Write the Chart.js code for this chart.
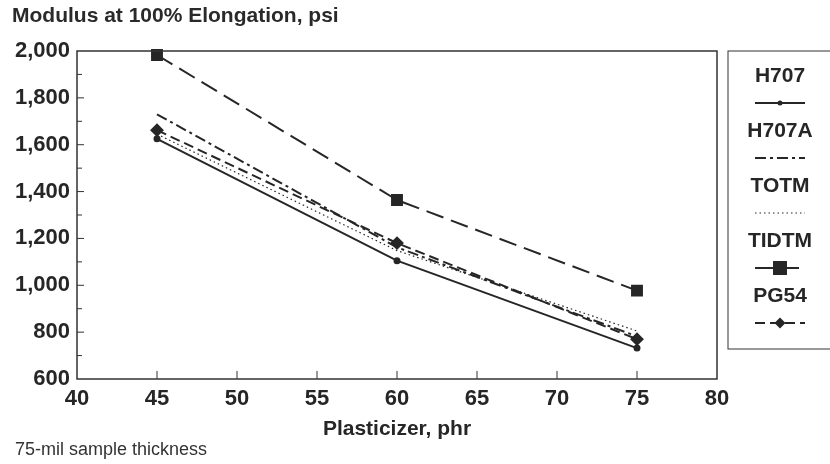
<!DOCTYPE html>
<html lang="en">
<head>
  <meta charset="UTF-8">
  <title>Modulus at 100% Elongation</title>
  <script src="https://cdn.jsdelivr.net/npm/chart.js"></script>
  <style>
    body { margin: 0; background: #fff; font-family: 'Liberation Sans', Arial, sans-serif; }
    .wrap { position: relative; width: 830px; height: 464px; }
    .titulo { position: absolute; left: 12px; top: 3px; font-size: 21px; font-weight: bold; color: #2a2a2a; }
    .nota { position: absolute; left: 15px; top: 439px; font-size: 18px; color: #333; }
  </style>
</head>
<body>
<div class="wrap">
  <canvas id="grafico" width="830" height="464"></canvas>
  <div class="titulo">Modulus at 100% Elongation, psi</div>
  <div class="nota">75-mil sample thickness</div>
</div>
<script>
  // dados
  const plastificante = [45, 60, 75];
  const h707 = [1625, 1105, 732];
  const h707a = [1730, 1162, 782];
  const totm = [1645, 1148, 805];
  const tidtm = [1983, 1364, 977];
  const pg54 = [1662, 1180, 770];
  const yTicks = [600, 800, 1000, 1200, 1400, 1600, 1800, 2000];
  const xTicks = [40, 45, 50, 55, 60, 65, 70, 75, 80];

  const cor = '#262626';
  const fonte = '"Liberation Sans", Arial';
  const pts = arr => arr.map((v, i) => ({ x: plastificante[i], y: v }));

  // moldura, ticks internos e legenda
  const extras = {
    id: 'extras',
    afterDraw(chart) {
      const ctx = chart.ctx;
      const a = chart.chartArea;
      const xs = chart.scales.x, ys = chart.scales.y;
      ctx.save();
      ctx.strokeStyle = '#333';
      ctx.lineWidth = 1.5;
      ctx.setLineDash([]);
      ctx.strokeRect(a.left, a.top, a.right - a.left, a.bottom - a.top);
      ctx.lineWidth = 1;
      for (let v = 700; v < 2000; v += 100) {
        const y = ys.getPixelForValue(v);
        ctx.beginPath();
        ctx.moveTo(a.left, y);
        ctx.lineTo(a.left + (v % 200 === 0 ? 7 : 5), y);
        ctx.stroke();
      }
      xTicks.slice(1, -1).forEach(v => {
        const x = xs.getPixelForValue(v);
        ctx.beginPath();
        ctx.moveTo(x, a.bottom);
        ctx.lineTo(x, a.bottom - 8);
        ctx.stroke();
      });

      // legenda
      ctx.strokeRect(728, 51, 120, 298);
      ctx.font = 'bold 21px ' + fonte + ', sans-serif';
      ctx.textAlign = 'center';
      ctx.textBaseline = 'middle';
      chart.data.datasets.forEach((ds, i) => {
        const cx = 780;
        const ty = 76 + i * 55;
        const ly = 103 + i * 55;
        ctx.fillStyle = cor;
        ctx.fillText(ds.label, cx, ty);
        ctx.strokeStyle = cor;
        ctx.lineWidth = ds.borderWidth;
        ctx.setLineDash(ds.borderDash || []);
        ctx.beginPath();
        ctx.moveTo(cx - 25, ly);
        ctx.lineTo(cx + 25, ly);
        ctx.stroke();
        ctx.setLineDash([]);
        if (ds.pointRadius > 0) {
          const r = ds.pointRadius;
          ctx.beginPath();
          if (ds.pointStyle === 'rect') {
            ctx.rect(cx - r, ly - r, 2 * r, 2 * r);
          } else if (ds.pointStyle === 'rectRot') {
            ctx.moveTo(cx, ly - r); ctx.lineTo(cx + r, ly); ctx.lineTo(cx, ly + r); ctx.lineTo(cx - r, ly); ctx.closePath();
          } else {
            ctx.arc(cx, ly, r, 0, Math.PI * 2);
          }
          ctx.fill();
        }
      });
      ctx.restore();
    }
  };

  new Chart(document.getElementById('grafico'), {
    type: 'line',
    data: {
      datasets: [
        { label: 'H707', data: pts(h707), borderColor: cor, backgroundColor: cor, borderWidth: 2,
          pointStyle: 'circle', pointRadius: 2.5 },
        { label: 'H707A', data: pts(h707a), borderColor: cor, backgroundColor: cor, borderWidth: 2,
          borderDash: [11, 4, 3, 4], pointRadius: 0 },
        { label: 'TOTM', data: pts(totm), borderColor: cor, backgroundColor: cor, borderWidth: 1.2,
          borderDash: [1.5, 3], pointRadius: 0 },
        { label: 'TIDTM', data: pts(tidtm), borderColor: cor, backgroundColor: cor, borderWidth: 2,
          borderDash: [18, 8], pointStyle: 'rect', pointRadius: 7 },
        { label: 'PG54', data: pts(pg54), borderColor: cor, backgroundColor: cor, borderWidth: 2,
          borderDash: [10, 5], pointStyle: 'rectRot', pointRadius: 5.5 }
      ]
    },
    options: {
      responsive: false,
      animation: false,
      clip: false,
      layout: { padding: { left: 0, top: 51, right: 113, bottom: 22 } },
      plugins: { legend: { display: false }, tooltip: { enabled: false } },
      scales: {
        x: {
          type: 'linear',
          min: 40, max: 80,
          afterFit: s => { s.height = 63; },
          afterBuildTicks: s => { s.ticks = xTicks.map(v => ({ value: v })); },
          grid: { display: false, drawTicks: false },
          border: { display: false },
          ticks: { padding: 7, color: cor, font: { size: 22, weight: 'bold', family: fonte } },
          title: { display: true, text: 'Plasticizer, phr', color: cor, padding: { top: 0, bottom: 0 },
            font: { size: 21, weight: 'bold', family: fonte } }
        },
        y: {
          min: 600, max: 2000,
          afterFit: s => { s.width = 77; },
          afterBuildTicks: s => { s.ticks = yTicks.map(v => ({ value: v })); },
          grid: { display: false, drawTicks: false },
          border: { display: false },
          ticks: { padding: 7, color: cor, font: { size: 22, weight: 'bold', family: fonte },
            callback: v => v.toLocaleString('en-US') }
        }
      }
    },
    plugins: [extras]
  });
</script>
</body>
</html>
